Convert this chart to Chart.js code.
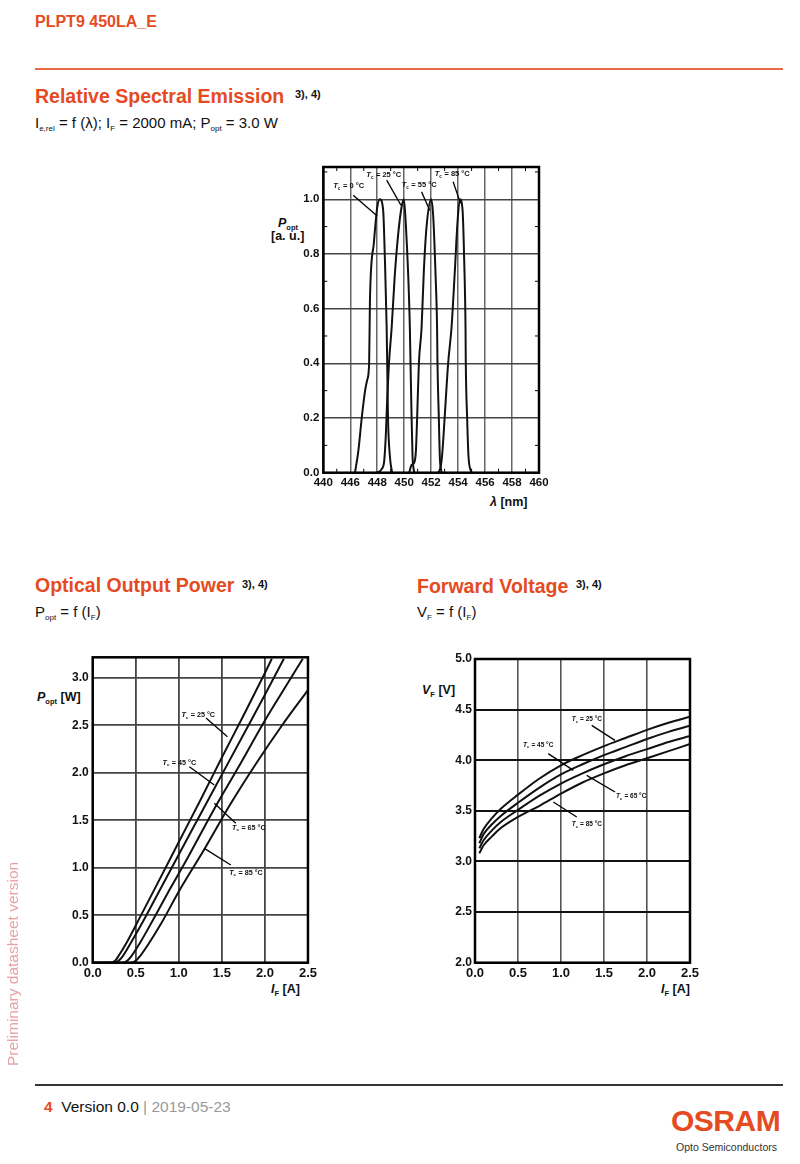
<!DOCTYPE html>
<html>
<head>
<meta charset="utf-8">
<script src="https://cdn.jsdelivr.net/npm/chart.js@4.4.1/dist/chart.umd.min.js"></script>
<style>
  body { margin: 0; background: #fff; }
  #page { position: relative; width: 800px; height: 1164px; overflow: hidden; font-family: "Liberation Sans", Arial, sans-serif; color: #111; }
  .t { position: absolute; white-space: nowrap; line-height: 1; }
  .orange { color: #e54b22; }
  .h { font-weight: bold; font-size: 19.5px; }
  .sup { font-size: 11px; font-weight: bold; }
  .sub15 { font-size: 15px; }
  sub { font-size: 8px; vertical-align: -3px; line-height: 0; }
  .ax { font-weight: bold; font-size: 12.5px; }
  .ax sub { font-size: 7.5px; vertical-align: -3px; }
  canvas { position: absolute; }
</style>
</head>
<body>
<div id="page">
  <div class="t orange" style="left:35px;top:13.5px;font-weight:bold;font-size:16px">PLPT9 450LA_E</div>
  <div style="position:absolute;left:35px;top:68px;width:748px;height:2px;background:#e86a45"></div>

  <div class="t orange h" style="left:35px;top:86.5px">Relative Spectral Emission</div>
  <div class="t sup" style="left:295px;top:88.5px">3), 4)</div>
  <div class="t sub15" style="left:35px;top:115px">I<sub>e,rel</sub> = f (λ); I<sub>F</sub> = 2000 mA; P<sub>opt</sub> = 3.0 W</div>

  <div class="t orange h" style="left:35px;top:575.5px">Optical Output Power</div>
  <div class="t sup" style="left:242px;top:579px">3), 4)</div>
  <div class="t sub15" style="left:35px;top:604px">P<sub>opt</sub> = f (I<sub>F</sub>)</div>

  <div class="t orange h" style="left:417px;top:576.5px">Forward Voltage</div>
  <div class="t sup" style="left:576px;top:579px">3), 4)</div>
  <div class="t sub15" style="left:417px;top:604px">V<sub>F</sub> = f (I<sub>F</sub>)</div>

  <!-- axis titles -->
  <div class="t ax" style="left:278px;top:216.5px"><i>P</i><sub>opt</sub></div>
  <div class="t ax" style="left:271px;top:229.5px">[a. u.]</div>
  <div class="t ax" style="left:490px;top:495.5px"><i>λ</i> [nm]</div>

  <div class="t ax" style="left:37px;top:691px"><i>P</i><sub>opt</sub> [W]</div>
  <div class="t ax" style="left:271px;top:982.5px"><i>I</i><sub>F</sub> [A]</div>

  <div class="t ax" style="left:422px;top:683.5px"><i>V</i><sub>F</sub> [V]</div>
  <div class="t ax" style="left:661px;top:982.5px"><i>I</i><sub>F</sub> [A]</div>

  <canvas id="spec" width="310" height="370" style="left:250px;top:150px"></canvas>
  <canvas id="power" width="300" height="370" style="left:20px;top:640px"></canvas>
  <canvas id="volt" width="310" height="370" style="left:400px;top:640px"></canvas>

  <div class="t" style="left:5px;top:1066px;transform:rotate(-90deg);transform-origin:0 0;font-size:15.5px;color:#e7a2a2">Preliminary datasheet version</div>

  <div style="position:absolute;left:35px;top:1084px;width:748px;height:1.5px;background:#333"></div>
  <div class="t" style="left:44px;top:1099px;font-size:15.5px">
    <span class="orange" style="font-weight:bold">4</span>&nbsp; Version 0.0 <span style="color:#999">| 2019-05-23</span>
  </div>
  <div class="t orange" style="left:671px;top:1106px;font-weight:bold;font-size:30px;letter-spacing:-0.5px">OSRAM</div>
  <div class="t" style="left:676px;top:1142px;font-size:10.5px;color:#333">Opto Semiconductors</div>
</div>

<script>
const FONT = '"Liberation Sans", Arial, sans-serif';

// Relative spectral emission: wavelength [nm] and relative power per case temperature
const specTemps = ['0', '25', '55', '85'];
const wl0 = [446.35, 446.6, 446.85, 447.1, 447.26, 447.4, 447.46, 447.75, 448.0, 448.2, 448.44, 448.57, 448.7, 448.74, 448.8, 448.94, 449.1];
const rel0 = [0, 0.08, 0.2, 0.3, 0.34, 0.4, 0.63, 0.84, 0.97, 1.0, 0.96, 0.78, 0.53, 0.4, 0.2, 0.06, 0];
const wl25 = [447.96, 448.33, 448.52, 448.64, 448.74, 448.87, 449.07, 449.3, 449.56, 449.8, 449.98, 450.13, 450.3, 450.42, 450.47, 450.55, 450.62, 450.74];
const rel25 = [0, 0.013, 0.044, 0.14, 0.27, 0.4, 0.53, 0.72, 0.875, 0.97, 1.0, 0.9, 0.72, 0.53, 0.4, 0.2, 0.06, 0];
const wl55 = [450.37, 450.55, 450.72, 450.87, 450.96, 451.09, 451.29, 451.46, 451.66, 452.0, 452.15, 452.33, 452.44, 452.47, 452.57, 452.64, 452.77];
const rel55 = [0, 0.028, 0.034, 0.08, 0.2, 0.4, 0.53, 0.74, 0.9, 1.0, 0.94, 0.72, 0.53, 0.4, 0.2, 0.06, 0];
const wl85 = [452.52, 452.7, 452.84, 453.0, 453.26, 453.51, 453.76, 453.96, 454.13, 454.33, 454.45, 454.55, 454.57, 454.67, 454.77, 454.99];
const rel85 = [0, 0.02, 0.08, 0.2, 0.4, 0.53, 0.74, 0.92, 1.0, 0.96, 0.78, 0.53, 0.4, 0.2, 0.06, 0];
const specXTicks = [444, 446, 448, 450, 452, 454, 456, 458, 460];
const specXLabels = ['440', '446', '448', '450', '452', '454', '456', '458', '460'];
const specYTicks = [0, 0.2, 0.4, 0.6, 0.8, 1.0];
const specMinorX = [445, 447, 449, 451, 453, 455, 457, 459];
const specMinorY = [0.1, 0.3, 0.5, 0.7, 0.9, 1.1];

// Optical output power: current [A] and power [W]
const powTemps = ['25', '45', '65', '85'];
const cur25 = [0, 0.2, 0.26, 0.3, 0.4, 0.55, 0.75, 1.0, 1.25, 1.5, 1.75, 2.0, 2.08];
const pow25 = [0, 0, 0.02, 0.07, 0.22, 0.48, 0.83, 1.27, 1.71, 2.16, 2.6, 3.05, 3.2];
const cur45 = [0, 0.25, 0.3, 0.35, 0.45, 0.6, 0.8, 1.0, 1.25, 1.5, 1.75, 2.0, 2.22];
const pow45 = [0, 0, 0.02, 0.07, 0.22, 0.46, 0.8, 1.14, 1.56, 1.98, 2.4, 2.82, 3.2];
const cur65 = [0, 0.35, 0.4, 0.45, 0.55, 0.7, 0.9, 1.1, 1.4, 1.7, 2.0, 2.25, 2.44];
const pow65 = [0, 0, 0.02, 0.07, 0.21, 0.45, 0.78, 1.1, 1.6, 2.07, 2.55, 2.92, 3.2];
const cur85 = [0, 0.44, 0.5, 0.55, 0.65, 0.8, 1.0, 1.3, 1.6, 1.9, 2.2, 2.5];
const pow85 = [0, 0, 0.02, 0.07, 0.2, 0.42, 0.75, 1.2, 1.67, 2.1, 2.5, 2.87];
const powXTicks = [0, 0.5, 1.0, 1.5, 2.0, 2.5];
const powYTicks = [0, 0.5, 1.0, 1.5, 2.0, 2.5, 3.0];

// Forward voltage: current [A] and voltage [V]
const voltCur = [0.05, 0.1, 0.2, 0.3, 0.5, 0.75, 1.0, 1.25, 1.5, 1.75, 2.0, 2.25, 2.5];
const volt25 = [3.23, 3.32, 3.43, 3.52, 3.66, 3.82, 3.95, 4.05, 4.14, 4.22, 4.30, 4.37, 4.43];
const volt45 = [3.18, 3.27, 3.37, 3.45, 3.58, 3.73, 3.86, 3.96, 4.05, 4.13, 4.21, 4.28, 4.34];
const volt65 = [3.13, 3.21, 3.31, 3.39, 3.51, 3.65, 3.77, 3.87, 3.96, 4.04, 4.11, 4.18, 4.24];
const volt85 = [3.08, 3.16, 3.25, 3.33, 3.44, 3.55, 3.67, 3.78, 3.87, 3.95, 4.02, 4.09, 4.16];
const voltXTicks = [0, 0.5, 1.0, 1.5, 2.0, 2.5];
const voltYTicks = [2.0, 2.5, 3.0, 3.5, 4.0, 4.5, 5.0];

// temperature labels: text anchor and leader line, in data units
const specNotes = [
  { temp: specTemps[0], at: [444.74, 1.048], from: [446.22, 1.015], to: [448.0, 0.939] },
  { temp: specTemps[1], at: [447.19, 1.090], from: [448.7, 1.070], to: [449.76, 0.978] },
  { temp: specTemps[2], at: [449.81, 1.052], from: [451.29, 1.027], to: [451.9, 0.959] },
  { temp: specTemps[3], at: [452.27, 1.091], from: [453.63, 1.064], to: [454.18, 0.985] }
];
const powNotes = [
  { temp: powTemps[0], at: [1.031, 2.607], from: [1.316, 2.577], to: [1.565, 2.379] },
  { temp: powTemps[1], at: [0.811, 2.107], from: [1.123, 2.063], to: [1.412, 1.871] },
  { temp: powTemps[2], at: [1.619, 1.423], from: [1.662, 1.467], to: [1.412, 1.678] },
  { temp: powTemps[3], at: [1.585, 0.949], from: [1.604, 1.028], to: [1.296, 1.204] }
];
const voltNotes = [
  { temp: powTemps[0], at: [1.124, 4.403], from: [1.357, 4.344], to: [1.628, 4.196] },
  { temp: powTemps[1], at: [0.558, 4.152], from: [0.852, 4.065], to: [1.143, 3.900] },
  { temp: powTemps[2], at: [1.640, 3.644], from: [1.628, 3.686], to: [1.299, 3.851] },
  { temp: powTemps[3], at: [1.124, 3.368], from: [1.183, 3.440], to: [0.911, 3.588] }
];

const toPoints = (xs, ys) => xs.map((x, i) => ({ x, y: ys[i] }));

const curve = (xs, ys) => ({
  data: toPoints(xs, ys),
  borderColor: '#111',
  borderWidth: 2,
  pointRadius: 0,
  fill: false,
  cubicInterpolationMode: 'monotone'
});

// draws "Tc = xx °C"
function drawTemp(ctx, x, y, temp, size) {
  ctx.fillStyle = '#111';
  ctx.textBaseline = 'middle';
  ctx.textAlign = 'left';
  ctx.font = `italic bold ${size}px ${FONT}`;
  ctx.fillText('T', x, y);
  let w = ctx.measureText('T').width;
  ctx.font = `bold ${size * 0.6}px ${FONT}`;
  ctx.fillText('c', x + w, y + size * 0.35);
  w += ctx.measureText('c').width + 0.5;
  ctx.font = `bold ${size}px ${FONT}`;
  ctx.fillText(' = ' + temp + ' °C', x + w, y);
}

// frame around the plot, minor ticks, temperature labels
function framePlugin(notes, size, minorX, minorY) {
  return {
    id: 'frameNotes',
    afterDraw(chart) {
      const { ctx, chartArea: a, scales: { x, y } } = chart;
      ctx.save();
      ctx.strokeStyle = '#000';
      if (minorX) {
        ctx.lineWidth = 1;
        ctx.beginPath();
        minorX.forEach(v => {
          const px = x.getPixelForValue(v);
          ctx.moveTo(px, a.bottom); ctx.lineTo(px, a.bottom - 4);
          ctx.moveTo(px, a.top); ctx.lineTo(px, a.top + 4);
        });
        minorY.forEach(v => {
          const py = y.getPixelForValue(v);
          ctx.moveTo(a.left, py); ctx.lineTo(a.left + 4, py);
          ctx.moveTo(a.right, py); ctx.lineTo(a.right - 4, py);
        });
        ctx.stroke();
      }
      ctx.lineWidth = 2.5;
      ctx.strokeRect(a.left, a.top, a.right - a.left, a.bottom - a.top);
      ctx.lineWidth = 1.3;
      notes.forEach(n => {
        ctx.beginPath();
        ctx.moveTo(x.getPixelForValue(n.from[0]), y.getPixelForValue(n.from[1]));
        ctx.lineTo(x.getPixelForValue(n.to[0]), y.getPixelForValue(n.to[1]));
        ctx.stroke();
        drawTemp(ctx, x.getPixelForValue(n.at[0]), y.getPixelForValue(n.at[1]), n.temp, size);
      });
      ctx.restore();
    }
  };
}

function makeChart(id, datasets, o, plugin) {
  new Chart(document.getElementById(id), {
    type: 'line',
    data: { datasets },
    options: {
      responsive: false,
      animation: false,
      events: [],
      layout: { autoPadding: false, padding: { top: o.top, right: o.right, left: 0, bottom: 0 } },
      plugins: { legend: { display: false }, tooltip: { enabled: false } },
      scales: {
        x: {
          type: 'linear', min: o.xMin, max: o.xMax,
          afterFit: s => { s.height = o.xHeight; },
          afterBuildTicks: s => { s.ticks = o.xTicks.map(v => ({ value: v })); },
          grid: { color: o.xGridColor, lineWidth: o.xGridWidth, drawTicks: false },
          border: { display: false },
          ticks: {
            padding: o.xPad, color: '#111', maxRotation: 0, autoSkip: false,
            font: { family: FONT, size: o.xFont, weight: 'bold' },
            callback: o.xLabels ? (v, i) => o.xLabels[i] : v => v.toFixed(1)
          }
        },
        y: {
          type: 'linear', min: o.yMin, max: o.yMax,
          afterFit: s => { s.width = o.yWidth; },
          afterBuildTicks: s => { s.ticks = o.yTicks.map(v => ({ value: v })); },
          grid: { color: o.yGridColor, lineWidth: o.yGridWidth, drawTicks: false },
          border: { display: false },
          ticks: {
            padding: o.yPad, color: '#111', autoSkip: false,
            font: { family: FONT, size: o.yFont, weight: 'bold' },
            callback: v => v.toFixed(1)
          }
        }
      }
    },
    plugins: [plugin]
  });
}

makeChart('spec',
  [curve(wl0, rel0), curve(wl25, rel25), curve(wl55, rel55), curve(wl85, rel85)],
  { top: 17, right: 21, xHeight: 47.3, yWidth: 73.3,
    xMin: 444, xMax: 460, yMin: 0, yMax: 1.118,
    xTicks: specXTicks, xLabels: specXLabels, yTicks: specYTicks,
    xGridColor: '#666', xGridWidth: 1.5, yGridColor: '#444', yGridWidth: 1.5,
    xPad: 3, yPad: 4, xFont: 11.5, yFont: 11.5 },
  framePlugin(specNotes, 7.5, specMinorX, specMinorY));

makeChart('power',
  [curve(cur25, pow25), curve(cur45, pow45), curve(cur65, pow65), curve(cur85, pow85)],
  { top: 17.3, right: 10.7, xHeight: 47.3, yWidth: 72.7,
    xMin: 0, xMax: 2.5, yMin: 0, yMax: 3.215,
    xTicks: powXTicks, yTicks: powYTicks,
    xGridColor: '#444', xGridWidth: 1.8, yGridColor: '#444', yGridWidth: 1.8,
    xPad: 3, yPad: 4, xFont: 13, yFont: 12 },
  framePlugin(powNotes, 7.2));

makeChart('volt',
  [curve(voltCur, volt25), curve(voltCur, volt45), curve(voltCur, volt65), curve(voltCur, volt85)],
  { top: 19, right: 20, xHeight: 47.3, yWidth: 75,
    xMin: 0, xMax: 2.5, yMin: 2.0, yMax: 5.0,
    xTicks: voltXTicks, yTicks: voltYTicks,
    xGridColor: '#555', xGridWidth: 1.6, yGridColor: '#111', yGridWidth: 2,
    xPad: 3, yPad: 3, xFont: 13, yFont: 12 },
  framePlugin(voltNotes, 6.5));
</script>
</body>
</html>
